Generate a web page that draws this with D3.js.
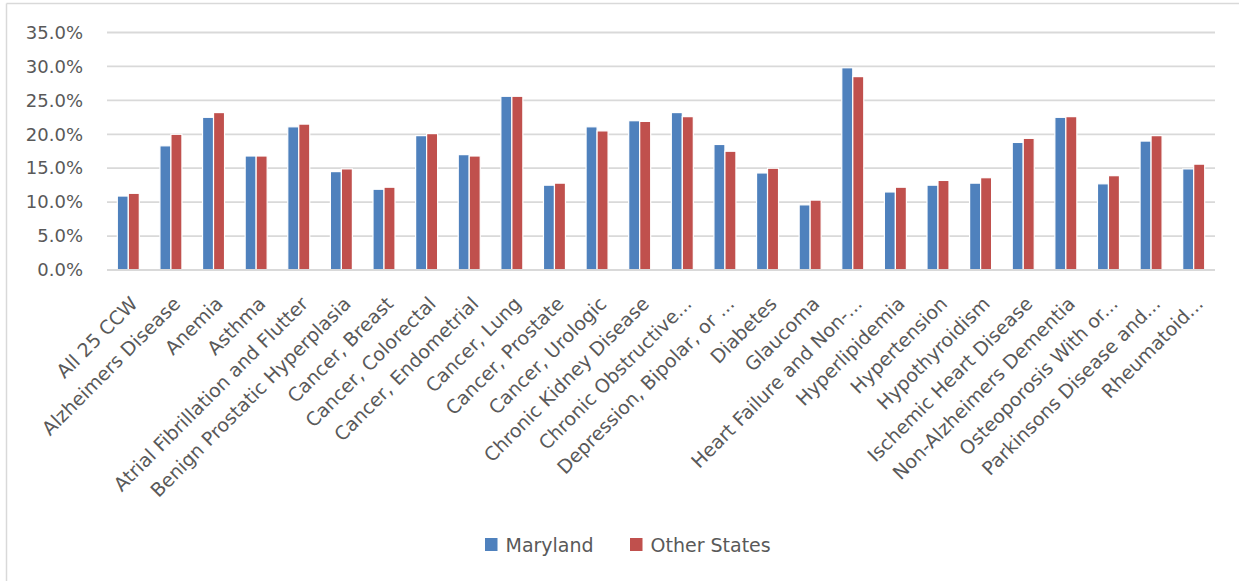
<!DOCTYPE html>
<html>
<head>
<meta charset="utf-8">
<script src="https://cdn.jsdelivr.net/npm/d3@7"></script>
<style>
  html, body { margin: 0; padding: 0; background: #ffffff; }
  svg { display: block; }
  text { font-family: "DejaVu Sans", "Liberation Sans", sans-serif; fill: #595959; }
</style>
</head>
<body>
<svg id="chart" width="1239" height="581"></svg>
<script>
// Chronic condition rates, Maryland vs. other states
const categories = [
  "All 25 CCW", "Alzheimers Disease", "Anemia", "Asthma",
  "Atrial Fibrillation and Flutter", "Benign Prostatic Hyperplasia",
  "Cancer, Breast", "Cancer, Colorectal", "Cancer, Endometrial",
  "Cancer, Lung", "Cancer, Prostate", "Cancer, Urologic",
  "Chronic Kidney Disease", "Chronic Obstructive...",
  "Depression, Bipolar, or ...", "Diabetes", "Glaucoma",
  "Heart Failure and Non-...", "Hyperlipidemia", "Hypertension",
  "Hypothyroidism", "Ischemic Heart Disease", "Non-Alzheimers Dementia",
  "Osteoporosis With or...", "Parkinsons Disease and...", "Rheumatoid..."
];
const seriesNames = ["Maryland", "Other States"];
const maryland = [
  0.109, 0.183, 0.225, 0.168, 0.211, 0.145, 0.119, 0.198, 0.170,
  0.256, 0.125, 0.211, 0.220, 0.232, 0.185, 0.143, 0.096, 0.298,
  0.115, 0.125, 0.128, 0.188, 0.225, 0.127, 0.190, 0.149
];
const otherStates = [
  0.113, 0.200, 0.232, 0.168, 0.215, 0.149, 0.122, 0.201, 0.168,
  0.256, 0.128, 0.205, 0.219, 0.226, 0.175, 0.150, 0.103, 0.285,
  0.122, 0.132, 0.136, 0.194, 0.226, 0.139, 0.198, 0.156
];
const yTicks = [0, 0.05, 0.10, 0.15, 0.20, 0.25, 0.30, 0.35];
const colors = ["#4f81bd", "#c0504d"];

const rows = categories.map((c, i) => ({ category: c, values: [maryland[i], otherStates[i]] }));

const svg = d3.select("#chart");
const W = 1239, H = 581;
const plot = { left: 107, right: 1215, top: 32.5, bottom: 270 };

svg.append("rect").attr("width", W).attr("height", H).attr("fill", "#ffffff");

// chart frame (top and left edges)
svg.append("line").attr("x1", 6.5).attr("x2", W).attr("y1", 3.5).attr("y2", 3.5)
  .attr("stroke", "#d9d9d9").attr("stroke-width", 1.5);
svg.append("line").attr("x1", 6.5).attr("x2", 6.5).attr("y1", 3.5).attr("y2", H)
  .attr("stroke", "#d9d9d9").attr("stroke-width", 1.5);

const x0 = d3.scaleBand().domain(categories).range([plot.left, plot.right]).padding(0);
const x1 = d3.scaleBand().domain(seriesNames).range([-11, 11]).padding(0);
const y = d3.scaleLinear().domain([0, 0.35]).range([plot.bottom, plot.top]);

// horizontal gridlines
svg.append("g").selectAll("line").data(yTicks).join("line")
  .attr("x1", plot.left).attr("x2", plot.right)
  .attr("y1", d => y(d)).attr("y2", d => y(d))
  .attr("stroke", "#d9d9d9").attr("stroke-width", 1.8);

// y axis labels
const yAxis = d3.axisLeft(y).tickValues(yTicks).tickFormat(d3.format(".1%")).tickSize(0).tickPadding(0);
const gy = svg.append("g").attr("transform", `translate(83,0)`).call(yAxis);
gy.select(".domain").remove();
gy.selectAll("text").attr("font-size", 18).attr("fill", "#595959")
  .style("font-family", '"DejaVu Sans", sans-serif');

// bars
const groups = svg.append("g").selectAll("g").data(rows).join("g")
  .attr("transform", d => `translate(${x0(d.category) + x0.bandwidth() / 2},0)`);
groups.selectAll("rect").data(d => d.values.map((v, i) => ({ key: seriesNames[i], v, i })))
  .join("rect")
  .attr("x", d => x1(d.key))
  .attr("width", x1.bandwidth())
  .attr("y", d => y(d.v))
  .attr("height", d => y(0) - y(d.v))
  .attr("fill", d => colors[d.i])
  .attr("stroke", "#ffffff").attr("stroke-width", 1.2);

// x axis baseline
svg.append("line").attr("x1", plot.left).attr("x2", plot.right)
  .attr("y1", y(0)).attr("y2", y(0))
  .attr("stroke", "#d9d9d9").attr("stroke-width", 1.8);

// rotated category labels
const xAxis = d3.axisBottom(x0).tickSize(0).tickPadding(0);
const gx = svg.append("g").attr("transform", `translate(0,${plot.bottom})`).call(xAxis);
gx.select(".domain").remove();
gx.selectAll("text")
  .attr("font-size", 19).attr("fill", "#595959")
  .style("font-family", '"DejaVu Sans", sans-serif')
  .attr("text-anchor", "end")
  .attr("dy", 0).attr("y", 0)
  .attr("transform", "translate(10.5,35) rotate(-45)");

// legend
const legend = svg.append("g");
const legendItems = [{ name: seriesNames[0], x: 485 }, { name: seriesNames[1], x: 630 }];
legendItems.forEach((d, i) => {
  legend.append("rect").attr("x", d.x).attr("y", 538).attr("width", 12.5).attr("height", 13)
    .attr("fill", colors[i]);
  legend.append("text").attr("x", d.x + 20.5).attr("y", 551.5)
    .attr("font-size", 19).text(d.name);
});
</script>
</body>
</html>
